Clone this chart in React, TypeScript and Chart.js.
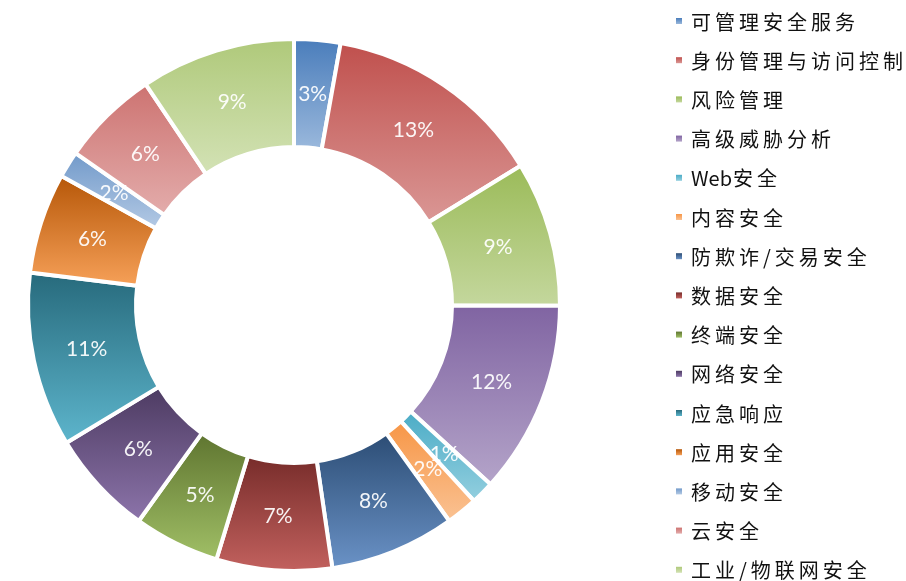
import React, { useEffect, useRef } from 'react';
import { Chart, registerables } from 'chart.js';

Chart.register(...registerables);

const categories = [
  '可管理安全服务',
  '身份管理与访问控制',
  '风险管理',
  '高级威胁分析',
  'Web安全',
  '内容安全',
  '防欺诈/交易安全',
  '数据安全',
  '终端安全',
  '网络安全',
  '应急响应',
  '应用安全',
  '移动安全',
  '云安全',
  '工业/物联网安全',
];

const shares = [2.8, 13.4, 8.8, 11.7, 1.4, 1.9, 7.6, 7.0, 5.2, 6.4, 10.6, 6.1, 1.6, 5.9, 9.4];

const topColors = [
  '#4a7dbb', '#c0504d', '#9bbb59', '#8064a2', '#4bacc6', '#f79646',
  '#2c4d75', '#772c2a', '#5f7530', '#4d3b62', '#276a7c', '#b65708',
  '#729aca', '#cd7371', '#afc97a',
];

const bottomColors = [
  '#9ab8dc', '#da9795', '#c4d79d', '#b4a4c9', '#93cfdf', '#fac293',
  '#6a92c6', '#c2615e', '#a0bf66', '#8c74aa', '#5db5cc', '#f6a058',
  '#b3c9e4', '#e3acab', '#d3e2b5',
];

const total = shares.reduce((a, b) => a + b, 0);

const sliceGradient = {
  id: 'sliceGradient',
  beforeDatasetsDraw(chart: any) {
    const ctx = chart.ctx;
    const meta = chart.getDatasetMeta(0);
    meta.data.forEach((arc: any, i: number) => {
      const p = arc.getProps(['x', 'y', 'startAngle', 'endAngle', 'innerRadius', 'outerRadius'], true);
      let minY = Infinity;
      let maxY = -Infinity;
      const N = 64;
      for (let k = 0; k <= N; k++) {
        const a = p.startAngle + ((p.endAngle - p.startAngle) * k) / N;
        for (const r of [p.innerRadius, p.outerRadius]) {
          const y = p.y + r * Math.sin(a);
          if (y < minY) minY = y;
          if (y > maxY) maxY = y;
        }
      }
      const g = ctx.createLinearGradient(0, minY, 0, maxY);
      g.addColorStop(0, topColors[i]);
      g.addColorStop(1, bottomColors[i]);
      arc.options = { ...arc.options, backgroundColor: g };
    });
  },
};

const pctLabels = {
  id: 'pctLabels',
  afterDatasetsDraw(chart: any) {
    const ctx = chart.ctx;
    const meta = chart.getDatasetMeta(0);
    ctx.save();
    ctx.font = '21px Lato, "Open Sans", sans-serif';
    ctx.fillStyle = 'rgba(255,255,255,0.93)';
    ctx.textAlign = 'center';
    ctx.textBaseline = 'middle';
    meta.data.forEach((arc: any, i: number) => {
      const pos = arc.tooltipPosition(true);
      ctx.fillText(Math.round((shares[i] / total) * 100) + '%', pos.x, pos.y);
    });
    ctx.restore();
  },
};

const sideLegend = {
  id: 'sideLegend',
  afterDraw(chart: any) {
    const ctx = chart.ctx;
    const area = chart.chartArea;
    const markerX = area.right + 114;
    const textX = markerX + 15;
    const firstY = 21;
    const step = 39.2;
    const spacing = 4;
    ctx.save();
    ctx.font = '20px "Noto Sans CJK SC", sans-serif';
    ctx.textAlign = 'left';
    ctx.textBaseline = 'middle';
    categories.forEach((c, i) => {
      const cy = firstY + step * i;
      const g = ctx.createLinearGradient(0, cy - 3, 0, cy + 3);
      g.addColorStop(0, topColors[i]);
      g.addColorStop(1, bottomColors[i]);
      ctx.fillStyle = g;
      ctx.fillRect(markerX, cy - 3, 6, 6);
      ctx.fillStyle = '#111111';
      let x = textX;
      const chars = Array.from(c);
      chars.forEach((ch, k) => {
        ctx.fillText(ch, x, cy + 1);
        const w = ctx.measureText(ch).width;
        const latin = /[A-Za-z]/.test(ch);
        const nextLatin = k + 1 < chars.length && /[A-Za-z]/.test(chars[k + 1]);
        x += w + (latin && nextLatin ? 0 : latin ? 1 : spacing);
      });
    });
    ctx.restore();
  },
};

export default function App() {
  const canvasRef = useRef<HTMLCanvasElement | null>(null);

  useEffect(() => {
    if (!canvasRef.current) return;
    const chart = new Chart(canvasRef.current, {
      type: 'doughnut',
      data: {
        labels: categories,
        datasets: [
          {
            data: shares,
            backgroundColor: topColors,
            borderColor: '#ffffff',
            borderWidth: 4,
            hoverOffset: 0,
          },
        ],
      },
      options: {
        responsive: false,
        animation: false,
        events: [],
        cutout: '59.4%',
        layout: { padding: { left: 26, top: 37, right: 344, bottom: 8 } },
        plugins: {
          legend: { display: false },
          tooltip: { enabled: false },
        },
      },
      plugins: [sliceGradient, pctLabels, sideLegend],
    });
    return () => chart.destroy();
  }, []);

  return (
    <div style={{ position: 'absolute', left: 0, top: 0, width: 906, height: 581, background: '#fff' }}>
      <canvas ref={canvasRef} width={906} height={581} style={{ display: 'block' }} />
    </div>
  );
}
